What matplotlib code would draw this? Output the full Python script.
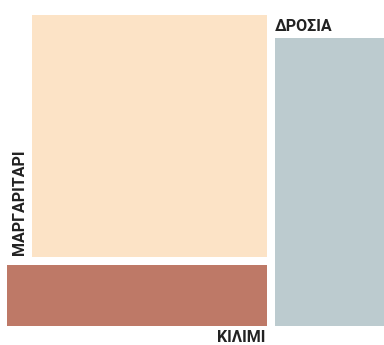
import matplotlib
matplotlib.use("Agg")
import matplotlib.pyplot as plt
from matplotlib.patches import Rectangle

# treemap data
labels = ["ΜΑΡΓΑΡΙΤΑΡΙ", "ΚΙΛΙΜΙ", "ΔΡΟΣΙΑ"]
values = [63, 16, 33]
colors = ["#FCE3C6", "#BE7967", "#BCCBCF"]

W, H = 384, 345
fig = plt.figure(figsize=(W / 100, H / 100), dpi=100)
# axes covers the tiled area (pixels 7..384 x 15..326)
ax = fig.add_axes([7 / W, (H - 326) / H, 377 / W, 311 / H])
ax.set_xlim(0, 1)
ax.set_ylim(0, 1)
ax.axis("off")

gap_x = 8 / 377
gap_y = 8 / 311
label_band_x = 25 / 377   # room for the rotated label
label_band_y = 23 / 311   # room for the top label

total = sum(values)
left_w = (1 - gap_x) * (values[0] + values[1]) / total
top_h = (1 - gap_y) * values[0] / (values[0] + values[1])
bot_h = (1 - gap_y) * values[1] / (values[0] + values[1])
right_x = left_w + gap_x

font = dict(family="Roboto", weight="bold", fontsize=11.5, color="#222222")

# big cell, label on its left side
ax.add_patch(Rectangle((label_band_x, 1 - top_h), left_w - label_band_x, top_h,
                       color=colors[0], lw=0))
ax.text(label_band_x / 2, 1 - top_h + 0.006, labels[0], rotation=90,
        ha="center", va="bottom", **font)

# bottom cell, label underneath
ax.add_patch(Rectangle((0, 0), left_w, bot_h, color=colors[1], lw=0))
ax.text(left_w - 0.006, -0.014, labels[1], ha="right", va="top", clip_on=False, **font)

# right column, label on top
ax.add_patch(Rectangle((right_x, 0), 1 - right_x, 1 - label_band_y, color=colors[2], lw=0))
ax.text(right_x, 1 - label_band_y / 2, labels[2], ha="left", va="center", **font)

fig.savefig("out.png", dpi=100)
